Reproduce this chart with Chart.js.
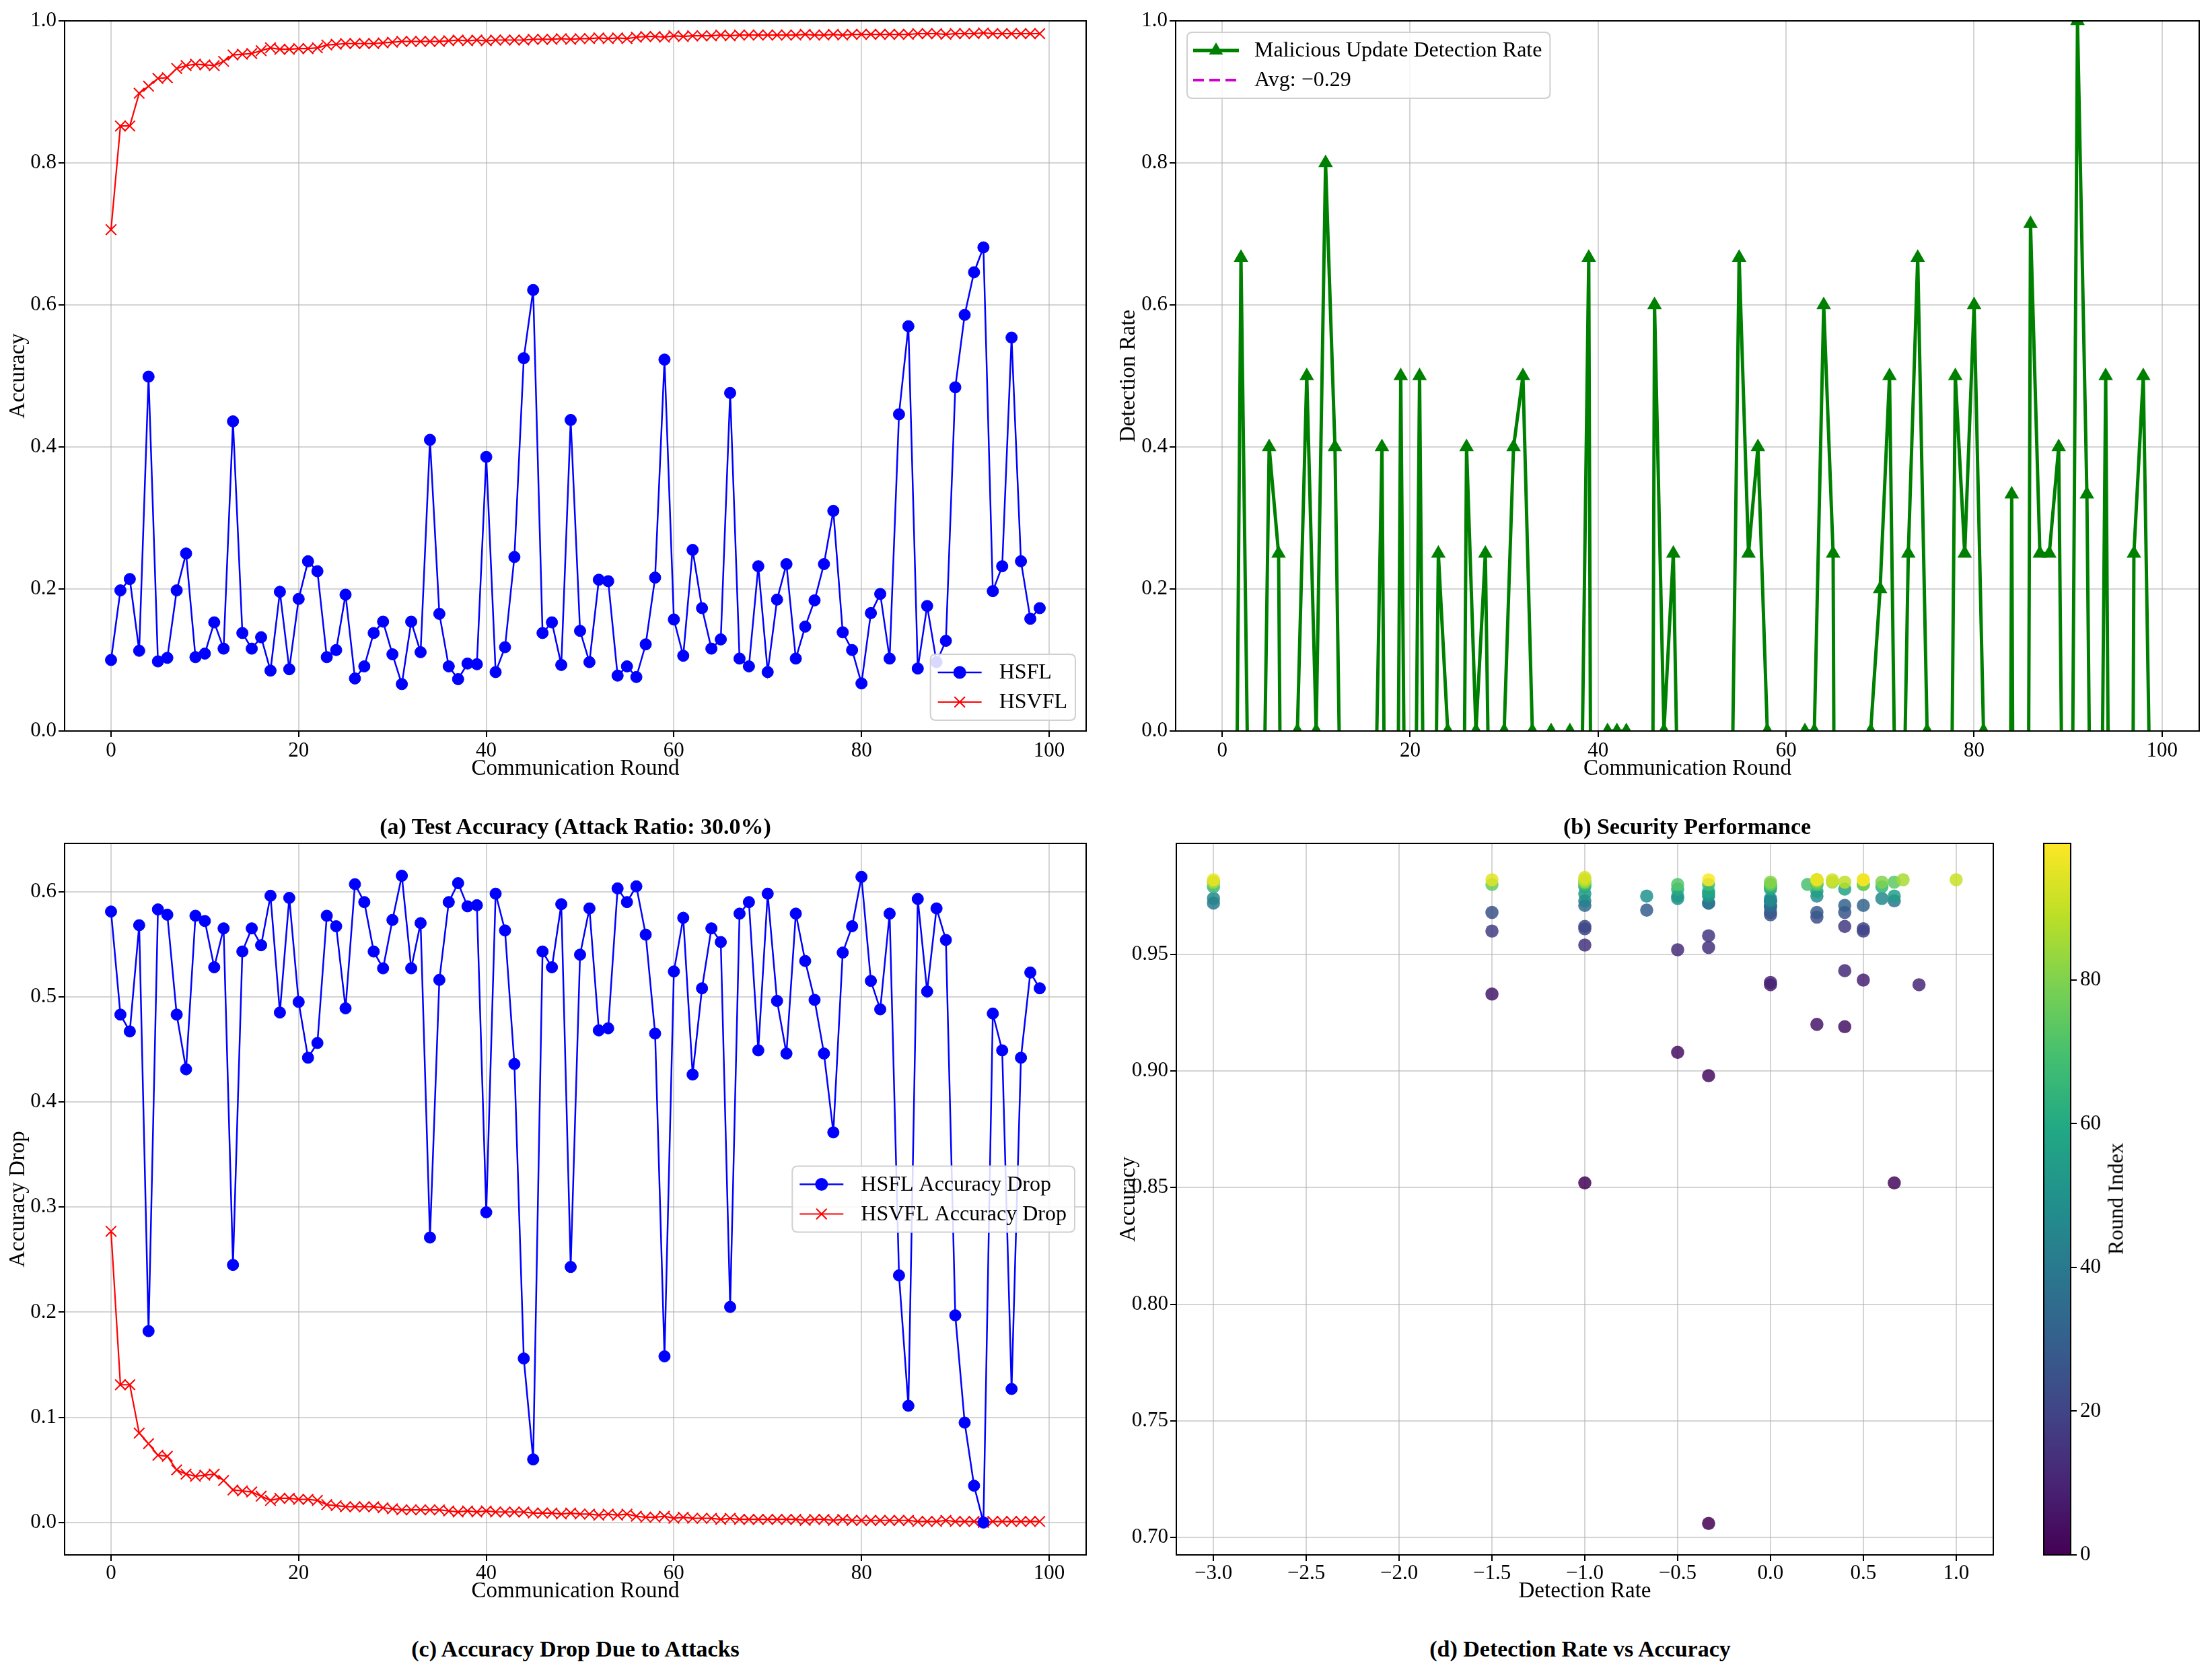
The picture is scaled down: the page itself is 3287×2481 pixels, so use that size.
<!DOCTYPE html>
<html><head><meta charset="utf-8">
<script src="https://cdn.jsdelivr.net/npm/chart.js@4.4.1/dist/chart.umd.min.js"></script>
<style>
html,body{margin:0;padding:0;background:#fff;}
body{width:3287px;height:2481px;position:relative;overflow:hidden;font-family:"Liberation Serif","Times New Roman",serif;}
canvas{position:absolute;}
.ttl{position:absolute;font-weight:bold;font-size:34px;transform:translate(-50%,-50%);white-space:nowrap;color:#000;}
.cbl{position:absolute;font-size:32px;transform:translate(-50%,-50%) rotate(-90deg);white-space:nowrap;color:#000;}
</style></head><body>
<canvas id="cA" width="1640" height="1165" style="left:0px;top:0px"></canvas>
<canvas id="cB" width="1647" height="1165" style="left:1640px;top:0px"></canvas>
<canvas id="cC" width="1640" height="1220" style="left:0px;top:1165px"></canvas>
<canvas id="cD" width="1350" height="1220" style="left:1640px;top:1165px"></canvas>
<canvas id="cE" width="287" height="1220" style="left:3000px;top:1165px"></canvas>
<div class="ttl" style="left:855px;top:1228px">(a) Test Accuracy (Attack Ratio: 30.0%)</div>
<div class="ttl" style="left:2507px;top:1228px">(b) Security Performance</div>
<div class="ttl" style="left:855px;top:2450px">(c) Accuracy Drop Due to Attacks</div>
<div class="ttl" style="left:2348px;top:2450px">(d) Detection Rate vs Accuracy</div>
<div class="cbl" style="left:3144px;top:1781px">Round Index</div>
<script>
// ---------------- DATA ----------------
const rounds = Array.from({length: 100}, (_, i) => i);
const roundTicks = [0, 20, 40, 60, 80, 100];

const hsflAcc = [0.100,0.198,0.214,0.113,0.499,0.098,0.103,0.198,0.250,0.104,
 0.109,0.153,0.116,0.436,0.138,0.116,0.132,0.085,0.196,0.087,
 0.186,0.239,0.225,0.104,0.114,0.192,0.074,0.091,0.138,0.154,
 0.108,0.066,0.154,0.111,0.410,0.165,0.091,0.073,0.095,0.094,
 0.386,0.083,0.118,0.245,0.525,0.621,0.138,0.153,0.093,0.438,
 0.141,0.097,0.213,0.211,0.078,0.091,0.076,0.122,0.216,0.523,
 0.157,0.106,0.255,0.173,0.116,0.129,0.476,0.102,0.091,0.232,
 0.083,0.185,0.235,0.102,0.147,0.184,0.235,0.310,0.139,0.114,
 0.067,0.166,0.193,0.102,0.446,0.570,0.088,0.176,0.097,0.127,
 0.484,0.586,0.646,0.681,0.197,0.232,0.554,0.239,0.158,0.173];

const hsvflAcc = [0.706,0.852,0.852,0.898,0.908,0.919,0.920,0.933,0.937,0.939,
 0.938,0.937,0.943,0.952,0.953,0.954,0.958,0.962,0.960,0.960,
 0.961,0.961,0.962,0.966,0.967,0.968,0.968,0.968,0.968,0.969,
 0.970,0.971,0.971,0.971,0.971,0.971,0.972,0.973,0.972,0.973,
 0.972,0.973,0.973,0.973,0.973,0.974,0.974,0.974,0.975,0.974,
 0.975,0.975,0.976,0.975,0.976,0.975,0.977,0.978,0.978,0.977,
 0.979,0.978,0.979,0.979,0.979,0.980,0.979,0.980,0.980,0.980,
 0.980,0.980,0.980,0.980,0.981,0.980,0.980,0.981,0.980,0.981,
 0.981,0.981,0.981,0.981,0.981,0.981,0.982,0.982,0.982,0.981,
 0.982,0.982,0.982,0.983,0.982,0.982,0.982,0.982,0.982,0.982];

const detectionRate = [-0.3333,-1,0.6667,-0.3333,-0.5,0.4,0.25,-1.5,0,0.5,
 0,0.8,0.4,-0.5,-0.3333,-1,-0.3333,0.4,-1.5,0.5,
 -1,0.5,-1,0.25,0,-1.5,0.4,0,0.25,-0.6667,
 0,0.4,0.5,0,-1,0,-0.3333,0,-0.3333,0.6667,
 -3,0,0,0,-1,-3,0.6,0,0.25,-0.5,
 -0.6667,-0.3333,-1,-0.5,-0.3333,0.6667,0.25,0.4,0,-0.3333,
 -1,-0.5,0,0,0.6,0.25,-3,-1,-0.3333,0,
 0.2,0.5,-0.5,0.25,0.6667,0,-1.5,-1,0.5,0.25,
 0.6,0,-1,-3,0.3333,-3,0.7143,0.25,0.25,0.4,
 -1,1.0,0.3333,-1,0.5,-1.5,-3,0.25,0.5,-0.3333];
const detectionAvg = -0.29;

const hsflDrop = [0.581,0.483,0.467,0.568,0.182,0.583,0.578,0.483,0.431,0.577,
 0.572,0.528,0.565,0.245,0.543,0.565,0.549,0.596,0.485,0.594,
 0.495,0.442,0.456,0.577,0.567,0.489,0.607,0.590,0.543,0.527,
 0.573,0.615,0.527,0.570,0.271,0.516,0.590,0.608,0.586,0.587,
 0.295,0.598,0.563,0.436,0.156,0.060,0.543,0.528,0.588,0.243,
 0.540,0.584,0.468,0.470,0.603,0.590,0.605,0.559,0.465,0.158,
 0.524,0.575,0.426,0.508,0.565,0.552,0.205,0.579,0.590,0.449,
 0.598,0.496,0.446,0.579,0.534,0.497,0.446,0.371,0.542,0.567,
 0.614,0.515,0.488,0.579,0.235,0.111,0.593,0.505,0.584,0.554,
 0.197,0.095,0.035,0.000,0.484,0.449,0.127,0.442,0.523,0.508];

const hsvflDrop = [0.277,0.131,0.131,0.085,0.075,0.064,0.063,0.050,0.046,0.044,
 0.045,0.046,0.040,0.031,0.030,0.029,0.025,0.021,0.023,0.023,
 0.022,0.022,0.021,0.017,0.016,0.015,0.015,0.015,0.015,0.014,
 0.013,0.012,0.012,0.012,0.012,0.012,0.011,0.010,0.011,0.010,
 0.011,0.010,0.010,0.010,0.010,0.009,0.009,0.009,0.008,0.009,
 0.008,0.008,0.007,0.008,0.007,0.008,0.006,0.005,0.005,0.006,
 0.004,0.005,0.004,0.004,0.004,0.003,0.004,0.003,0.003,0.003,
 0.003,0.003,0.003,0.003,0.002,0.003,0.003,0.002,0.003,0.002,
 0.002,0.002,0.002,0.002,0.002,0.002,0.001,0.001,0.001,0.002,
 0.001,0.001,0.001,0.000,0.001,0.001,0.001,0.001,0.001,0.001];

const accTicks = [0, 0.2, 0.4, 0.6, 0.8, 1.0];
const dropTicks = [0, 0.1, 0.2, 0.3, 0.4, 0.5, 0.6];
const detTicks = [-3, -2.5, -2, -1.5, -1, -0.5, 0, 0.5, 1];
const scatterYTicks = [0.70, 0.75, 0.80, 0.85, 0.90, 0.95];
const cbarTicks = [0, 20, 40, 60, 80];

// ---------------- STYLE ----------------
const FONT = '"Liberation Serif", "Times New Roman", serif';
const GRID = 'rgba(176,176,176,0.55)';
const VIRIDIS = ['#440154','#482475','#414487','#355f8d','#2a788e','#21918c','#22a884','#44bf70','#7ad151','#bddf26','#fde725'];

function hex2rgb(h){ return [parseInt(h.substr(1,2),16),parseInt(h.substr(3,2),16),parseInt(h.substr(5,2),16)]; }
function viridis(t, a){
  t = Math.max(0, Math.min(1, t));
  const p = t * (VIRIDIS.length - 1), i = Math.min(Math.floor(p), VIRIDIS.length - 2), f = p - i;
  const c0 = hex2rgb(VIRIDIS[i]), c1 = hex2rgb(VIRIDIS[i+1]);
  const c = c0.map((v,k) => Math.round(v + (c1[k]-v)*f));
  return `rgba(${c[0]},${c[1]},${c[2]},${a})`;
}
const fmtSigned1 = v => (v < 0 ? '\u2212' : '') + Math.abs(v).toFixed(1);

function mkScale(o){
  return {
    type: 'linear', position: o.pos, min: o.min, max: o.max,
    afterBuildTicks: s => { s.ticks = o.ticks.map(v => ({value: v})); },
    afterFit: s => { if (o.pos === 'bottom') s.height = o.size; else s.width = o.size; },
    grid: {display: true, drawOnChartArea: o.grid !== false, color: GRID, lineWidth: 2, drawTicks: true, tickLength: 9, tickColor: '#000', tickWidth: 2},
    border: {display: false},
    ticks: {color: '#000', font: {family: FONT, size: 31}, padding: o.tpad !== undefined ? o.tpad : 3, autoSkip: false, maxRotation: 0, callback: v => o.fmt(v)},
    title: {display: !!o.title, text: o.title, color: '#000', font: {family: FONT, size: 33}, padding: o.titlePad || 0}
  };
}

const framePlugin = {
  id: 'frame',
  afterDatasetsDraw(chart){
    const {ctx, chartArea: ca} = chart;
    ctx.save(); ctx.strokeStyle = '#000'; ctx.lineWidth = 2;
    ctx.strokeRect(ca.left, ca.top, ca.right - ca.left, ca.bottom - ca.top);
    ctx.restore();
  }
};

const legendPlugin = {
  id: 'boxLegend',
  afterDraw(chart, args, o){
    if (!o || !o.items) return;
    const ctx = chart.ctx, ca = chart.chartArea;
    ctx.save();
    ctx.font = `${o.fontSize}px ${FONT}`;
    const tw = Math.max(...o.items.map(it => ctx.measureText(it.text).width));
    const w = o.padL + o.handle + o.gap + tw + o.padR;
    const h = o.padV * 2 + o.items.length * o.row;
    let x, y;
    if (o.loc === 'lower right'){ x = ca.right - o.margin - w; y = ca.bottom - o.margin - h; }
    else if (o.loc === 'upper left'){ x = ca.left + o.margin; y = ca.top + o.margin; }
    else { x = ca.right - o.margin - w; y = (ca.top + ca.bottom) / 2 - h / 2; }
    const r = 8;
    ctx.beginPath();
    ctx.moveTo(x + r, y); ctx.lineTo(x + w - r, y); ctx.quadraticCurveTo(x + w, y, x + w, y + r);
    ctx.lineTo(x + w, y + h - r); ctx.quadraticCurveTo(x + w, y + h, x + w - r, y + h);
    ctx.lineTo(x + r, y + h); ctx.quadraticCurveTo(x, y + h, x, y + h - r);
    ctx.lineTo(x, y + r); ctx.quadraticCurveTo(x, y, x + r, y); ctx.closePath();
    ctx.fillStyle = 'rgba(255,255,255,0.85)'; ctx.fill();
    ctx.strokeStyle = '#d0d0d0'; ctx.lineWidth = 2; ctx.stroke();
    o.items.forEach((it, i) => {
      const cy = y + o.padV + o.row * (i + 0.5);
      const x0 = x + o.padL, x1 = x0 + o.handle;
      ctx.save();
      ctx.strokeStyle = it.color; ctx.lineWidth = it.lineWidth;
      ctx.setLineDash(it.dash || []);
      ctx.beginPath(); ctx.moveTo(x0, cy); ctx.lineTo(x1, cy); ctx.stroke();
      ctx.restore();
      if (it.pointStyle){
        ctx.save();
        ctx.fillStyle = it.color; ctx.strokeStyle = it.color;
        Chart.helpers.drawPoint(ctx, {pointStyle: it.pointStyle, radius: it.radius, borderWidth: it.borderWidth, rotation: 0}, (x0 + x1) / 2, cy);
        ctx.restore();
      }
      ctx.fillStyle = '#000'; ctx.textBaseline = 'middle'; ctx.textAlign = 'left';
      ctx.fillText(it.text, x1 + o.gap, cy + 1);
    });
    ctx.restore();
  }
};

const cbarPlugin = {
  id: 'cbarFill',
  beforeDatasetsDraw(chart, args, o){
    if (!o || !o.on) return;
    const {ctx, chartArea: ca} = chart;
    const g = ctx.createLinearGradient(0, ca.bottom, 0, ca.top);
    VIRIDIS.forEach((c, i) => g.addColorStop(i / (VIRIDIS.length - 1), c));
    ctx.save(); ctx.fillStyle = g;
    ctx.fillRect(ca.left, ca.top, ca.right - ca.left, ca.bottom - ca.top);
    ctx.restore();
  }
};

Chart.register(framePlugin, legendPlugin, cbarPlugin);

const base = {responsive: false, animation: false, devicePixelRatio: 1, events: []};
const fmtInt = v => String(v);
const fmt1 = v => v.toFixed(1);

// styles for series
const sHSFL = {color: '#0000ff', lineWidth: 2.5, pointStyle: 'circle', radius: 8.5, borderWidth: 1};
const sHSVFL = {color: '#ff0000', lineWidth: 2.2, pointStyle: 'crossRot', radius: 11, borderWidth: 2};
const sDet = {color: '#008000', lineWidth: 5, pointStyle: 'triangle', radius: 10, borderWidth: 2.5};
const sAvg = {color: '#d000d0', lineWidth: 4, dash: [16, 8]};

function lineDS(label, ys, s){
  return {label, data: rounds.map((r, i) => ({x: r, y: ys[i]})), borderColor: s.color, backgroundColor: s.color,
    borderWidth: s.lineWidth, pointStyle: s.pointStyle, pointRadius: s.radius, pointBorderWidth: s.borderWidth,
    pointBackgroundColor: s.color, pointBorderColor: s.color, tension: 0, clip: 0};
}
function legItem(text, s){ return Object.assign({text}, s); }

// ---------------- (a) ----------------
new Chart(document.getElementById('cA'), {
  type: 'line',
  data: {datasets: [lineDS('HSFL', hsflAcc, sHSFL), lineDS('HSVFL', hsvflAcc, sHSVFL)]},
  options: Object.assign({}, base, {
    layout: {padding: {top: 31, right: 26, left: 0, bottom: 0}},
    scales: {
      x: mkScale({pos: 'bottom', min: -4.95, max: 103.95, ticks: roundTicks, fmt: fmtInt, size: 79, title: 'Communication Round', titlePad: {top: 0, bottom: 3}, tpad: 2}),
      y: mkScale({pos: 'left', min: 0, max: 1, ticks: accTicks, fmt: fmt1, size: 96, title: 'Accuracy', titlePad: {top: 8, bottom: 0}})
    },
    plugins: {legend: {display: false}, tooltip: {enabled: false},
      boxLegend: {loc: 'lower right', margin: 16, padL: 11, handle: 65, gap: 26, padR: 12, padV: 5, row: 44, fontSize: 32,
        items: [legItem('HSFL', sHSFL), legItem('HSVFL', sHSVFL)]}}
  })
});

// ---------------- (b) ----------------
new Chart(document.getElementById('cB'), {
  type: 'line',
  data: {datasets: [
    lineDS('Malicious Update Detection Rate', detectionRate, sDet),
    {label: 'Avg', data: [{x: -4.95, y: detectionAvg}, {x: 103.95, y: detectionAvg}], borderColor: sAvg.color, borderWidth: sAvg.lineWidth, borderDash: sAvg.dash, pointRadius: 0, clip: 0}
  ]},
  options: Object.assign({}, base, {
    layout: {padding: {top: 31, right: 19, left: 0, bottom: 0}},
    scales: {
      x: mkScale({pos: 'bottom', min: -4.95, max: 103.95, ticks: roundTicks, fmt: fmtInt, size: 79, title: 'Communication Round', titlePad: {top: 0, bottom: 3}, tpad: 2}),
      y: mkScale({pos: 'left', min: 0, max: 1, ticks: accTicks, fmt: fmt1, size: 107, title: 'Detection Rate', titlePad: {top: 18, bottom: 0}})
    },
    plugins: {legend: {display: false}, tooltip: {enabled: false},
      boxLegend: {loc: 'upper left', margin: 17, padL: 9, handle: 68, gap: 23, padR: 12, padV: 5, row: 44, fontSize: 32,
        items: [legItem('Malicious Update Detection Rate', sDet), legItem('Avg: \u2212' + Math.abs(detectionAvg).toFixed(2), sAvg)]}}
  })
});

// ---------------- (c) ----------------
new Chart(document.getElementById('cC'), {
  type: 'line',
  data: {datasets: [lineDS('HSFL Accuracy Drop', hsflDrop, sHSFL), lineDS('HSVFL Accuracy Drop', hsvflDrop, sHSVFL)]},
  options: Object.assign({}, base, {
    layout: {padding: {top: 88, right: 26, left: 0, bottom: 0}},
    scales: {
      x: mkScale({pos: 'bottom', min: -4.95, max: 103.95, ticks: roundTicks, fmt: fmtInt, size: 75, title: 'Communication Round', titlePad: {top: 0, bottom: 1}, tpad: 0}),
      y: mkScale({pos: 'left', min: -0.0308, max: 0.6458, ticks: dropTicks, fmt: fmt1, size: 96, title: 'Accuracy Drop', titlePad: {top: 8, bottom: 0}})
    },
    plugins: {legend: {display: false}, tooltip: {enabled: false},
      boxLegend: {loc: 'center right', margin: 17, padL: 11, handle: 65, gap: 26, padR: 12, padV: 5, row: 44, fontSize: 32,
        items: [legItem('HSFL Accuracy Drop', sHSFL), legItem('HSVFL Accuracy Drop', sHSVFL)]}}
  })
});

// ---------------- (d) ----------------
new Chart(document.getElementById('cD'), {
  type: 'scatter',
  data: {datasets: [{
    label: 'rounds',
    data: rounds.map((r, i) => ({x: detectionRate[i], y: hsvflAcc[i]})),
    backgroundColor: rounds.map(r => viridis(r / 99, 0.85)),
    borderWidth: 0, pointRadius: 9.8, clip: 0
  }]},
  options: Object.assign({}, base, {
    layout: {padding: {top: 88, right: 28, left: 0, bottom: 0}},
    scales: {
      x: mkScale({pos: 'bottom', min: -3.2, max: 1.2, ticks: detTicks, fmt: fmtSigned1, size: 75, title: 'Detection Rate', titlePad: {top: 0, bottom: 1}, tpad: 0}),
      y: mkScale({pos: 'left', min: 0.6925, max: 0.9976, ticks: scatterYTicks, fmt: v => v.toFixed(2), size: 108, title: 'Accuracy', titlePad: {top: 18, bottom: 0}})
    },
    plugins: {legend: {display: false}, tooltip: {enabled: false}}
  })
});

// ---------------- colorbar ----------------
new Chart(document.getElementById('cE'), {
  type: 'scatter',
  data: {datasets: [{data: []}]},
  options: Object.assign({}, base, {
    layout: {padding: {top: 88, right: 0, left: 37, bottom: 75}},
    scales: {
      x: {type: 'linear', display: false, min: 0, max: 1},
      y: mkScale({pos: 'right', min: 0, max: 99, ticks: cbarTicks, fmt: fmtInt, size: 210, grid: false, tpad: 5})
    },
    plugins: {legend: {display: false}, tooltip: {enabled: false}, cbarFill: {on: true}}
  })
});
</script>
</body></html>
